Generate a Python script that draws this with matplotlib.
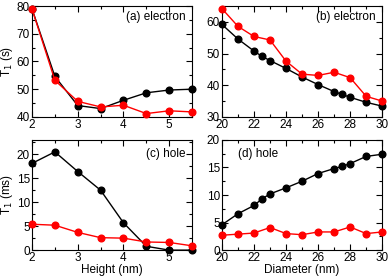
import matplotlib
matplotlib.use("Agg")
import matplotlib.pyplot as plt
from matplotlib.ticker import MultipleLocator

plt.rcParams['font.family'] = ['Liberation Sans', 'DejaVu Sans']
plt.rcParams['font.size'] = 8.5

# (a) electron vs height
height = [2, 2.5, 3, 3.5, 4, 4.5, 5, 5.5]
a_black = [79, 54.6, 44.1, 43.0, 46.0, 48.7, 49.7, 50.0]
a_red = [79, 53.2, 45.6, 43.6, 44.2, 41.2, 42.2, 41.8]

# (b) electron vs diameter
diam_black = [20, 21, 22, 22.5, 23, 24, 25, 26, 27, 27.5, 28, 29, 30]
diam_red = [20, 21, 22, 23, 24, 25, 26, 27, 28, 29, 30]
b_black = [59.2, 54.6, 50.8, 49.1, 47.8, 45.3, 42.6, 40.2, 38.0, 37.1, 36.2, 34.6, 33.4]
b_red = [64.2, 58.6, 55.4, 54.3, 47.6, 43.5, 43.1, 44.1, 42.4, 36.5, 35.0]

# (c) hole vs height
c_black = [18.1, 20.5, 16.4, 12.5, 5.7, 0.8, 0.0, 0.0]
c_red = [5.4, 5.2, 3.7, 2.6, 2.5, 1.7, 1.6, 0.9]

# (d) hole vs diameter
d_black = [4.6, 6.6, 8.1, 9.3, 10.2, 11.3, 12.5, 13.9, 14.8, 15.2, 15.7, 17.0, 17.4]
d_red = [2.7, 2.9, 3.1, 4.1, 3.0, 2.8, 3.3, 3.3, 4.2, 3.0, 3.3]

fig = plt.figure(figsize=(3.88, 2.77), dpi=100)
ax_a = fig.add_axes([0.0825, 0.578, 0.4125, 0.40])
ax_b = fig.add_axes([0.572, 0.578, 0.413, 0.40])
ax_c = fig.add_axes([0.0825, 0.097, 0.4125, 0.398])
ax_d = fig.add_axes([0.572, 0.097, 0.413, 0.398])

style = dict(marker='o', markersize=4.8, linewidth=1.0, clip_on=False, zorder=3)


def setup(ax, xlim, ylim, xmaj, xmin, ymaj, ymin):
    ax.set_xlim(*xlim)
    ax.set_ylim(*ylim)
    ax.xaxis.set_major_locator(MultipleLocator(xmaj))
    ax.xaxis.set_minor_locator(MultipleLocator(xmin))
    ax.yaxis.set_major_locator(MultipleLocator(ymaj))
    ax.yaxis.set_minor_locator(MultipleLocator(ymin))
    ax.tick_params(which='both', direction='in', top=True, right=True, pad=1.5)
    ax.tick_params(which='major', length=4, width=0.8)
    ax.tick_params(which='minor', length=2, width=0.8)


ax_a.plot(height, a_black, color='black', **style)
ax_a.plot(height, a_red, color='red', **style)
setup(ax_a, (2, 5.5), (40, 80), 1, 0.5, 10, 5)
ax_a.set_ylabel('T$_1$ (s)', labelpad=1)
ax_a.text(0.96, 0.9, '(a) electron', transform=ax_a.transAxes, ha='right', va='center')

ax_b.plot(diam_black, b_black, color='black', **style)
ax_b.plot(diam_red, b_red, color='red', **style)
setup(ax_b, (20, 30), (30, 65), 2, 1, 10, 5)
ax_b.text(0.96, 0.9, '(b) electron', transform=ax_b.transAxes, ha='right', va='center')

ax_c.plot(height, c_black, color='black', **style)
ax_c.plot(height, c_red, color='red', **style)
setup(ax_c, (2, 5.5), (0, 23), 1, 0.5, 5, 2.5)
ax_c.set_ylabel('T$_1$ (ms)', labelpad=1)
ax_c.set_xlabel('Height (nm)', labelpad=0)
ax_c.text(0.96, 0.87, '(c) hole', transform=ax_c.transAxes, ha='right', va='center')

ax_d.plot(diam_black, d_black, color='black', **style)
ax_d.plot(diam_red, d_red, color='red', **style)
setup(ax_d, (20, 30), (0, 20), 2, 1, 5, 2.5)
ax_d.set_xlabel('Diameter (nm)', labelpad=0)
ax_d.text(0.1, 0.87, '(d) hole', transform=ax_d.transAxes, ha='left', va='center')

fig.savefig('out.png', dpi=100)
